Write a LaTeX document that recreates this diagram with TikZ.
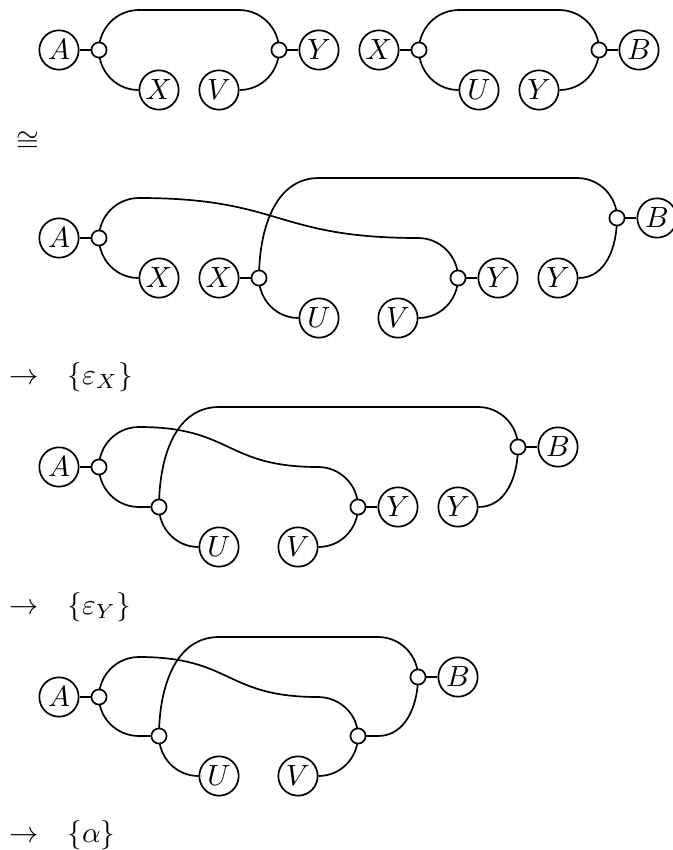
\documentclass[tikz,border=0pt]{standalone}
\usetikzlibrary{backgrounds}
\tikzset{
  obj/.style={draw,circle,line width=0.58pt,minimum size=13.45pt,inner sep=0pt,fill=white},
  junc/.style={draw,circle,line width=0.58pt,minimum size=5.2pt,inner sep=0pt,fill=white},
  wire/.style={line width=0.58pt},
  sway/.style={out=0,in=180,looseness=1.3},
  lbl/.style={inner sep=0pt,anchor=base west}
}
\begin{document}
\begin{tikzpicture}[x=0.342pt,y=-0.342pt]
\useasboundingbox (0,0) rectangle (673,850);
% Row 1
\node[obj] (a1) at (59,50) {$A$};
\node[junc] (j1) at (99,50) {};
\node[obj] (x1) at (159,90) {$X$};
\node[obj] (v1) at (219,90) {$V$};
\node[junc] (j2) at (279,50) {};
\node[obj] (y1) at (319,50) {$Y$};
\coordinate (t1) at (139,10);
\coordinate (t2) at (239,10);
\node[obj] (x2) at (379,50) {$X$};
\node[junc] (j3) at (419,50) {};
\node[obj] (u2) at (479,90) {$U$};
\node[obj] (y2) at (539,90) {$Y$};
\node[junc] (j4) at (599,50) {};
\node[obj] (b2) at (639,50) {$B$};
\coordinate (t3) at (459,10);
\coordinate (t4) at (559,10);
\begin{scope}[on background layer]
\draw[wire] (a1) -- (j1);
\draw[wire] (j2) -- (y1);
\draw[wire] (j1.center) to[out=90,in=180] (t1) -- (t2) to[out=0,in=90] (j2.center);
\draw[wire] (j1.center) to[out=-90,in=180] (x1.west);
\draw[wire] (v1.east) to[out=0,in=-90] (j2.center);
\draw[wire] (x2) -- (j3);
\draw[wire] (j4) -- (b2);
\draw[wire] (j3.center) to[out=90,in=180] (t3) -- (t4) to[out=0,in=90] (j4.center);
\draw[wire] (j3.center) to[out=-90,in=180] (u2.west);
\draw[wire] (y2.east) to[out=0,in=-90] (j4.center);
\end{scope}
\node[lbl] (l1) at (15.5,150.5) {$\cong$};
% Row 2
\node[obj] (a3) at (59,238) {$A$};
\node[junc] (j5) at (99,238) {};
\node[obj] (x3) at (159,278) {$X$};
\node[obj] (x4) at (219,278) {$X$};
\node[junc] (j6) at (259,278) {};
\node[obj] (u3) at (319,318) {$U$};
\node[obj] (v3) at (398,318) {$V$};
\node[junc] (j7) at (458,278) {};
\node[obj] (y3) at (498,278) {$Y$};
\node[obj] (y4) at (558,278) {$Y$};
\node[junc] (j8) at (617,218) {};
\node[obj] (b3) at (657,218) {$B$};
\coordinate (s1) at (139,198);
\coordinate (s2) at (418,238);
\coordinate (t5) at (319,178);
\coordinate (t6) at (577,178);
\begin{scope}[on background layer]
\draw[wire] (a3) -- (j5);
\draw[wire] (x4) -- (j6);
\draw[wire] (j7) -- (y3);
\draw[wire] (j8) -- (b3);
\draw[wire] (j5.center) to[out=90,in=180] (s1) to[sway] (s2) to[out=0,in=90] (j7.center);
\draw[wire] (j5.center) to[out=-90,in=180] (x3.west);
\draw[wire] (j6.center) to[out=90,in=180] (t5) -- (t6) to[out=0,in=90] (j8.center);
\draw[wire] (j6.center) to[out=-90,in=180] (u3.west);
\draw[wire] (v3.east) to[out=0,in=-90] (j7.center);
\draw[wire] (y4.east) to[out=0,in=-90] (j8.center);
\end{scope}
\node[lbl] (l2) at (8.5,384.5) {${\rightarrow}\quad\{\varepsilon_X\}$};
% Row 3
\node[obj] (a5) at (59,467) {$A$};
\node[junc] (j9) at (99,467) {};
\node[junc] (j10) at (159,507) {};
\node[obj] (u5) at (219,547) {$U$};
\node[obj] (v5) at (298,547) {$V$};
\node[junc] (j11) at (358,507) {};
\node[obj] (y5) at (398,507) {$Y$};
\node[obj] (y6) at (458,507) {$Y$};
\node[junc] (j12) at (518,447) {};
\node[obj] (b5) at (558,447) {$B$};
\coordinate (s3) at (139,427);
\coordinate (s4) at (318,467);
\coordinate (t7) at (219,407);
\coordinate (t8) at (478,407);
\coordinate (e1) at (139,507);
\begin{scope}[on background layer]
\draw[wire] (a5) -- (j9);
\draw[wire] (j11) -- (y5);
\draw[wire] (j12) -- (b5);
\draw[wire] (j9.center) to[out=90,in=180] (s3) to[sway] (s4) to[out=0,in=90] (j11.center);
\draw[wire] (j9.center) to[out=-90,in=180] (e1) -- (j10);
\draw[wire] (j10.center) to[out=90,in=180] (t7) -- (t8) to[out=0,in=90] (j12.center);
\draw[wire] (j10.center) to[out=-90,in=180] (u5.west);
\draw[wire] (v5.east) to[out=0,in=-90] (j11.center);
\draw[wire] (y6.east) to[out=0,in=-90] (j12.center);
\end{scope}
\node[lbl] (l3) at (8.5,614.5) {${\rightarrow}\quad\{\varepsilon_Y\}$};
% Row 4
\node[obj] (a7) at (59,697) {$A$};
\node[junc] (j13) at (99,697) {};
\node[junc] (j14) at (159,736) {};
\node[obj] (u7) at (219,776) {$U$};
\node[obj] (v7) at (298,776) {$V$};
\node[junc] (j15) at (358,736) {};
\node[junc] (j16) at (418,677) {};
\node[obj] (b7) at (458,677) {$B$};
\coordinate (s5) at (139,657);
\coordinate (s6) at (318,697);
\coordinate (t9) at (219,637);
\coordinate (t10) at (378,637);
\coordinate (e2) at (139,736);
\coordinate (e3) at (378,736);
\begin{scope}[on background layer]
\draw[wire] (a7) -- (j13);
\draw[wire] (j16) -- (b7);
\draw[wire] (j13.center) to[out=90,in=180] (s5) to[sway] (s6) to[out=0,in=90] (j15.center);
\draw[wire] (j13.center) to[out=-90,in=180] (e2) -- (j14);
\draw[wire] (j14.center) to[out=90,in=180] (t9) -- (t10) to[out=0,in=90] (j16.center);
\draw[wire] (j14.center) to[out=-90,in=180] (u7.west);
\draw[wire] (v7.east) to[out=0,in=-90] (j15.center);
\draw[wire] (j15) -- (e3) to[out=0,in=-90] (j16.center);
\end{scope}
\node[lbl] (l4) at (8.5,842.5) {${\rightarrow}\quad\{\alpha\}$};
\end{tikzpicture}
\end{document}
